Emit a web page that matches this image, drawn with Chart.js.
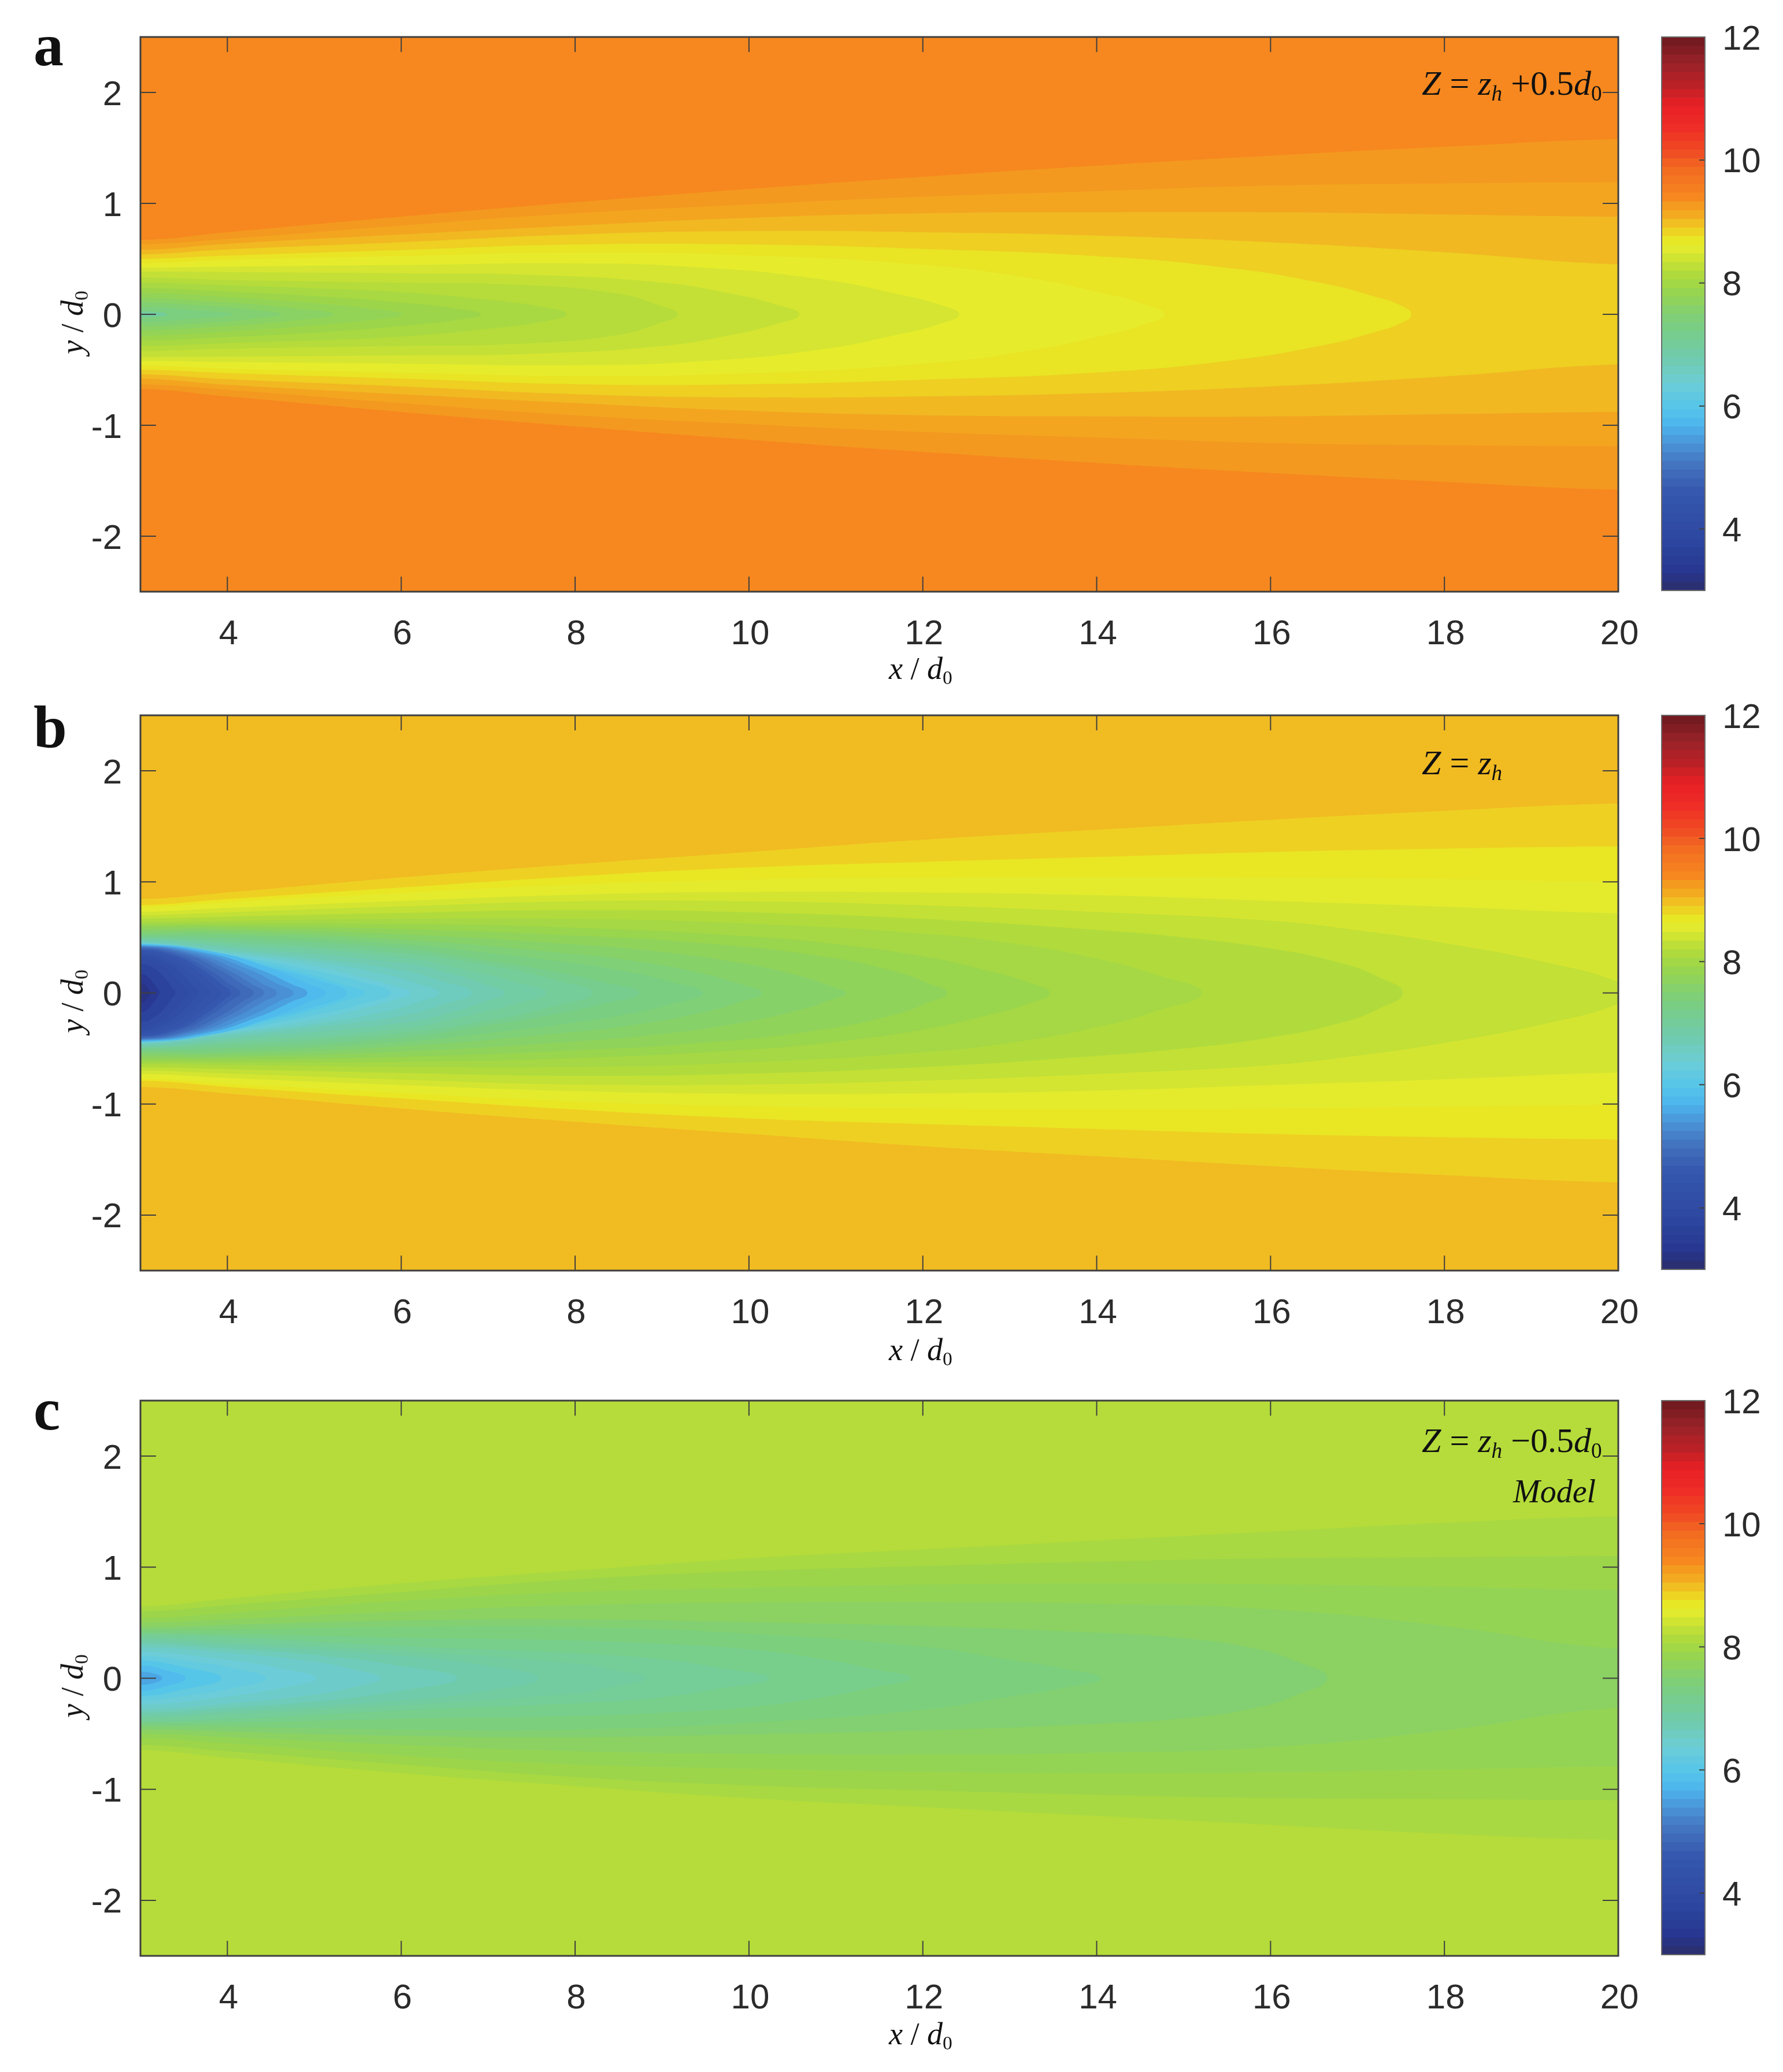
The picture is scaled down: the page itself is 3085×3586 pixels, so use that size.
<!DOCTYPE html>
<html>
<head>
<meta charset="utf-8">
<script src="https://cdn.jsdelivr.net/npm/chart.js@4"></script>
<style>
  html, body { margin: 0; padding: 0; background: #fff; }
  #page { position: relative; width: 3085px; height: 3586px; overflow: hidden; }
  canvas { position: absolute; left: 0; }
  .note { position: absolute; font-family: "Liberation Serif", serif; color: #111; white-space: pre; line-height: 1; }
  .note sub { font-size: 0.62em; line-height: 0; vertical-align: -0.28em; font-style: inherit; }
</style>
</head>
<body>
<div id="page"></div>
<script>
// axes
const xRange = [3, 20];
const yRange = [-2.5, 2.5];
const xTicks = [4, 6, 8, 10, 12, 14, 16, 18, 20];
const yTicks = [-2, -1, 0, 1, 2];
const cbarRange = [3, 12];
const cbarTicks = [4, 6, 8, 10, 12];
const cbarBands = 64;

// colormap: value, colour
const mapValues = [3, 3.3, 3.6, 4, 4.6, 5, 5.35, 5.7, 6, 6.35, 6.8, 7.4, 7.9, 8.2, 8.45, 8.6, 8.72, 8.85, 9, 9.14, 9.27, 9.4, 9.85, 10.15, 10.55, 10.9, 11.2, 11.6, 12];
const mapColors = ['#2c2e69', '#283590', '#2a4099', '#2f4ba4', '#3557ae', '#4270be', '#4a90d4', '#4db6ee', '#56c6e8', '#6ccdd8', '#70cbab', '#7ccf7b', '#9ad54b', '#b5dc3a', '#d5e531', '#e6ec2c', '#e9e624', '#eed222', '#f1bb22', '#f3a720', '#f49a1f', '#f6881f', '#f36b21', '#f04a23', '#ee2c27', '#e72025', '#bd2127', '#962228', '#6b191e'];

// panel a: field value outside all contours, value inside each contour,
// and each contour's upper half as [x/d0, y/d0] (ends at y=0 when it closes)
const backgroundA = 9.4;
const levelsA = [9.28, 9.16, 9.02, 8.87, 8.73, 8.6, 8.45, 8.32, 8.2, 8.06, 7.92, 7.78, 7.64, 7.5, 7.36, 6.97];
const contoursA = [
  [[3,.67],[4,.74],[6,.88],[8,1.01],[10,1.13],[12,1.24],[14,1.34],[16,1.43],[18,1.51],[20,1.58]],
  [[3,.63],[4,.68],[6,.80],[8,.91],[10,.99],[12,1.06],[14,1.11],[16,1.16],[18,1.18],[20,1.19]],
  [[3,.58],[4,.635],[6,.72],[8,.80],[10,.87],[12,.91],[14,.92],[16,.92],[18,.90],[20,.88]],
  [[3,.54],[4,.585],[6,.65],[8,.72],[10,.75],[12,.74],[14,.71],[16,.65],[18,.56],[20,.45]],
  [[3,.50],[4,.53],[6,.58],[8,.63],[10,.63],[12,.59],[14,.525],[15.5,.42],[16.6,.28],[17.2,.16],[17.5,.08],[17.62,0]],
  [[3,.46],[4,.49],[6,.525],[8,.555],[10,.53],[12,.445],[13.2,.33],[14.1,.185],[14.55,.09],[14.78,0]],
  [[3,.42],[4,.43],[6,.445],[8,.46],[9.4,.425],[10.8,.32],[11.7,.185],[12.2,.085],[12.42,0]],
  [[3,.385],[4,.38],[6,.37],[7.5,.355],[9,.285],[9.8,.185],[10.3,.09],[10.58,0]],
  [[3,.333],[4,.31],[6,.285],[7.5,.26],[8.5,.185],[8.95,.085],[9.18,0]],
  [[3,.286],[4,.26],[5,.235],[6,.20],[7,.13],[7.6,.07],[7.9,0]],
  [[3,.238],[4,.205],[5,.165],[6,.105],[6.6,.055],[6.92,0]],
  [[3,.194],[4,.155],[5,.10],[5.6,.055],[6.01,0]],
  [[3,.147],[4,.105],[4.7,.06],[5.22,0]],
  [[3,.107],[3.8,.075],[4.3,.04],[4.62,0]],
  [[3,.067],[3.6,.04],[4.06,0]],
  [[3,.028],[3.31,0]]
];

// panel b
const backgroundB = 9.0;
const levelsB = [8.86, 8.72, 8.58, 8.44, 8.3, 8.16, 8.02, 7.88, 7.73, 7.59, 7.45, 7.31, 7.17, 7.03, 6.89, 6.75, 6.61, 6.47, 6.33, 6.19, 6.05, 5.91, 5.77, 5.5, 5.35, 5.2, 5.05, 4.9, 4.75, 4.6, 4.45, 4.3, 4.15, 4, 3.7, 3.4, 3.2];
const contoursB = [
  [[3,.845],[4,.905],[6,1.04],[8,1.16],[10,1.27],[12,1.38],[14,1.47],[16,1.56],[18,1.64],[20,1.706]],
  [[3,.79],[4,.845],[6,.95],[8,1.05],[10,1.13],[12,1.18],[14,1.225],[16,1.27],[18,1.30],[20,1.32]],
  [[3,.77],[4,.817],[6,.90],[8,.975],[10,1.02],[12,1.04],[14,1.045],[16,1.04],[18,1.024],[20,1.004]],
  [[3,.73],[4,.766],[6,.83],[8,.885],[10,.91],[12,.905],[14,.88],[16,.83],[18,.778],[20,.718]],
  [[3,.70],[4,.726],[6,.78],[8,.825],[10,.825],[12,.79],[14,.73],[16,.65],[17,.565],[18,.45],[19.2,.27],[20,.1],[20.15,0]],
  [[3,.67],[4,.687],[6,.72],[8,.746],[10,.726],[12,.667],[14,.567],[15,.50],[16,.40],[16.8,.27],[17.25,.14],[17.52,0]],
  [[3,.64],[4,.65],[6,.667],[8,.667],[10,.625],[12,.535],[13,.45],[14,.31],[14.7,.16],[15.21,0]],
  [[3,.62],[4,.625],[6,.62],[8,.587],[10,.51],[11,.44],[12,.33],[12.7,.21],[13.2,.10],[13.46,0]],
  [[3,.60],[4,.60],[6,.575],[8,.516],[9.44,.45],[10.84,.33],[11.7,.19],[12.05,.09],[12.28,0]],
  [[3,.575],[4,.575],[6,.528],[8,.437],[9,.37],[9.9,.27],[10.6,.15],[10.95,.06],[11.12,0]],
  [[3,.55],[4,.55],[6,.48],[8,.35],[8.75,.28],[9.44,.18],[9.9,.08],[10.15,0]],
  [[3,.53],[4,.525],[6,.44],[7,.36],[8,.265],[8.6,.19],[9.1,.10],[9.47,0]],
  [[3,.515],[4,.495],[6,.40],[7,.29],[7.7,.20],[8.3,.10],[8.74,0]],
  [[3,.50],[4,.465],[6,.36],[7,.25],[7.7,.13],[8.2,0]],
  [[3,.49],[4,.44],[6,.32],[6.8,.20],[7.3,.10],[7.67,0]],
  [[3,.48],[4,.415],[6,.27],[6.6,.17],[6.95,.08],[7.19,0]],
  [[3,.465],[4,.39],[5,.31],[6,.205],[6.45,.11],[6.81,0]],
  [[3,.455],[4,.37],[5,.28],[5.8,.17],[6.2,.08],[6.44,0]],
  [[3,.45],[4,.355],[5,.24],[5.6,.13],[5.9,.065],[6.11,0]],
  [[3,.445],[4,.345],[5,.20],[5.5,.11],[5.88,0]],
  [[3,.44],[4,.34],[4.5,.25],[5,.155],[5.3,.08],[5.58,0]],
  [[3,.44],[4,.335],[4.5,.23],[5,.125],[5.37,0]],
  [[3,.44],[3.85,.37],[4.49,.224],[4.92,.084],[5.13,0]],
  [[3,.43],[3.77,.36],[4.34,.22],[4.73,.082],[4.92,0]],
  [[3,.425],[3.7,.357],[4.23,.217],[4.58,.08],[4.76,0]],
  [[3,.42],[3.63,.353],[4.1,.214],[4.41,.08],[4.57,0]],
  [[3,.415],[3.57,.349],[3.99,.212],[4.28,.079],[4.42,0]],
  [[3,.41],[3.52,.344],[3.91,.209],[4.17,.078],[4.3,0]],
  [[3,.40],[3.46,.336],[3.8,.204],[4.03,.076],[4.15,0]],
  [[3,.39],[3.42,.328],[3.73,.199],[3.94,.074],[4.04,0]],
  [[3,.38],[3.37,.319],[3.65,.194],[3.84,.072],[3.93,0]],
  [[3,.36],[3.32,.30],[3.56,.184],[3.72,.068],[3.8,0]],
  [[3,.34],[3.27,.286],[3.47,.173],[3.6,.065],[3.67,0]],
  [[3,.31],[3.22,.26],[3.385,.158],[3.495,.059],[3.55,0]],
  [[3,.26],[3.16,.218],[3.28,.133],[3.36,.05],[3.4,0]],
  [[3,.17],[3.09,.143],[3.15,.087],[3.2,.032],[3.22,0]],
  [[3,.09],[3.05,.076],[3.08,.046],[3.11,.017],[3.12,0]]
];

// panel c
const backgroundC = 8.2;
const levelsC = [8.05, 7.92, 7.8, 7.65, 7.5, 7.37, 7.2, 7.05, 6.95, 6.8, 6.65, 6.5, 6.35, 6.2, 6, 5.8, 5.55];
const contoursC = [
  [[3,.645],[4,.716],[6,.854],[8,.97],[10,1.08],[12,1.16],[14,1.24],[16,1.32],[18,1.40],[20,1.457]],
  [[3,.60],[4,.657],[6,.776],[8,.89],[10,.965],[12,1.01],[14,1.05],[16,1.08],[18,1.09],[20,1.10]],
  [[3,.54],[4,.587],[6,.697],[8,.776],[10,.815],[12,.843],[14,.854],[16,.846],[18,.823],[20,.795]],
  [[3,.50],[4,.53],[6,.60],[8,.657],[10,.68],[12,.685],[14,.67],[16,.62],[18,.47],[20,.264]],
  [[3,.46],[4,.48],[6,.52],[8,.53],[10,.505],[12,.47],[14,.41],[15,.36],[15.8,.27],[16.3,.15],[16.65,0]],
  [[3,.435],[4,.44],[6,.46],[8,.46],[10,.40],[12,.283],[13,.165],[13.6,.09],[14.05,0]],
  [[3,.41],[4,.40],[6,.365],[8,.34],[9,.31],[10,.26],[10.9,.165],[11.4,.087],[11.86,0]],
  [[3,.39],[4,.37],[6,.29],[8,.225],[9,.17],[9.6,.10],[10.23,0]],
  [[3,.365],[4,.33],[6,.245],[8,.135],[8.4,.08],[8.81,0]],
  [[3,.34],[4,.30],[6,.20],[7,.11],[7.58,0]],
  [[3,.31],[4,.265],[5,.21],[6,.11],[6.64,0]],
  [[3,.28],[4,.23],[5,.15],[5.4,.09],[5.76,0]],
  [[3,.24],[4,.165],[4.6,.09],[5.02,0]],
  [[3,.2],[3.6,.15],[4,.1],[4.44,0]],
  [[3,.16],[3.5,.1],[3.93,0]],
  [[3,.115],[3.3,.07],[3.52,0]],
  [[3,.06],[3.25,0]]
];

const tickFont = { family: '"Liberation Sans", Arial, sans-serif', size: 60 };
const tickColor = '#2b2b2b';
const frameColor = '#3f3f3f';

function hexToRgb(h) {
  return [1, 3, 5].map(i => parseInt(h.substr(i, 2), 16));
}

function colorAt(z) {
  let i = 0;
  while (i < mapValues.length - 2 && z > mapValues[i + 1]) i++;
  const t = Math.min(1, Math.max(0, (z - mapValues[i]) / (mapValues[i + 1] - mapValues[i])));
  const a = hexToRgb(mapColors[i]), b = hexToRgb(mapColors[i + 1]);
  return 'rgb(' + a.map((v, k) => Math.round(v + (b[k] - v) * t)).join(',') + ')';
}

// upper half -> closed outline, mirrored about y=0. ends that touch the axes
// are carried past the plot so the spline stays flat inside the clip
function outline(half) {
  const pts = half.map(p => ({ x: p[0], y: p[1] }));
  const last = half[half.length - 1];
  const upper = [{ x: xRange[0] - 1.5, y: half[0][1] }].concat(pts);
  if (last[1] > 0) upper.push({ x: xRange[1] + 1.5, y: last[1] });
  const lower = upper.slice().reverse().filter(p => p.y !== 0).map(p => ({ x: p.x, y: -p.y }));
  return upper.concat(lower);
}

const panelFrame = {
  id: 'panelFrame',
  beforeDatasetsDraw(chart, args, opts) {
    const { ctx, chartArea: a } = chart;
    ctx.fillStyle = colorAt(opts.background);
    ctx.fillRect(a.left, a.top, a.right - a.left, a.bottom - a.top);
  },
  afterDatasetsDraw(chart) {
    const { ctx, chartArea: a, scales } = chart;
    ctx.save();
    ctx.strokeStyle = frameColor;
    ctx.lineWidth = 2;
    ctx.beginPath();
    xTicks.forEach(v => {
      const px = scales.x.getPixelForValue(v);
      ctx.moveTo(px, a.top); ctx.lineTo(px, a.top + 26);
      ctx.moveTo(px, a.bottom); ctx.lineTo(px, a.bottom - 26);
    });
    yTicks.forEach(v => {
      const py = scales.y.getPixelForValue(v);
      ctx.moveTo(a.left, py); ctx.lineTo(a.left + 27, py);
      ctx.moveTo(a.right, py); ctx.lineTo(a.right - 27, py);
    });
    ctx.stroke();
    ctx.lineWidth = 3;
    ctx.strokeRect(a.left, a.top, a.right - a.left, a.bottom - a.top);
    ctx.restore();
  }
};

const cbarFrame = {
  id: 'cbarFrame',
  afterDatasetsDraw(chart) {
    const { ctx, chartArea: a, scales } = chart;
    ctx.save();
    ctx.strokeStyle = frameColor;
    ctx.lineWidth = 2;
    ctx.beginPath();
    cbarTicks.forEach(v => {
      const py = scales.y.getPixelForValue(v);
      ctx.moveTo(a.right, py); ctx.lineTo(a.right - 10, py);
    });
    ctx.stroke();
    ctx.strokeStyle = '#6a6a6a';
    ctx.strokeRect(a.left, a.top, a.right - a.left, a.bottom - a.top);
    ctx.restore();
  }
};

function addCanvas(page, left, top, w, h) {
  const c = document.createElement('canvas');
  c.width = w; c.height = h;
  c.style.left = left + 'px'; c.style.top = top + 'px';
  page.appendChild(c);
  return c;
}

function drawPanel(page, plotTop, plotBottom, background, levels, contours) {
  const headroom = 62, xAxisHeight = 110;
  const canvas = addCanvas(page, 0, plotTop - headroom, 3085, plotBottom - plotTop + headroom + xAxisHeight);
  // first dataset is painted last, so innermost contour goes first
  const datasets = contours.map((half, i) => ({
    data: outline(half),
    showLine: true,
    fill: 'shape',
    backgroundColor: colorAt(levels[i]),
    borderWidth: 0,
    pointRadius: 0,
    tension: 0.5
  })).reverse();
  new Chart(canvas, {
    type: 'scatter',
    data: { datasets },
    plugins: [panelFrame],
    options: {
      responsive: false,
      animation: false,
      devicePixelRatio: 1,
      events: [],
      layout: { padding: { top: headroom, right: 285, left: 0, bottom: 0 } },
      plugins: { legend: { display: false }, tooltip: { enabled: false }, panelFrame: { background } },
      scales: {
        x: {
          type: 'linear', min: xRange[0], max: xRange[1],
          afterBuildTicks: s => { s.ticks = xTicks.map(value => ({ value })); },
          afterFit: s => { s.height = xAxisHeight; },
          grid: { display: false }, border: { display: false },
          ticks: { font: tickFont, color: tickColor, padding: 30, maxRotation: 0, autoSkip: false, labelOffset: 2 }
        },
        y: {
          type: 'linear', min: yRange[0], max: yRange[1],
          afterBuildTicks: s => { s.ticks = yTicks.map(value => ({ value })); },
          afterFit: s => { s.width = 243; },
          grid: { display: false }, border: { display: false },
          ticks: { font: tickFont, color: tickColor, padding: 24, autoSkip: false, labelOffset: 5 }
        }
      }
    }
  });
}

function drawColorbar(page, plotTop, plotBottom) {
  const headroom = 62;
  const canvas = addCanvas(page, 2865, plotTop - headroom, 220, plotBottom - plotTop + headroom + 62);
  const step = (cbarRange[1] - cbarRange[0]) / cbarBands;
  const datasets = [];
  // each bar runs up to the top so neighbouring bands leave no seam
  for (let i = cbarBands - 1; i >= 0; i--) {
    const lo = cbarRange[0] + i * step;
    datasets.push({
      data: [[lo, cbarRange[1]]],
      backgroundColor: colorAt(lo + step / 2),
      borderWidth: 0,
      grouped: false,
      barPercentage: 1,
      categoryPercentage: 1
    });
  }
  new Chart(canvas, {
    type: 'bar',
    data: { labels: ['speed'], datasets },
    plugins: [cbarFrame],
    options: {
      responsive: false,
      animation: false,
      devicePixelRatio: 1,
      events: [],
      layout: { padding: { top: headroom, left: 10, bottom: 62, right: 0 } },
      plugins: { legend: { display: false }, tooltip: { enabled: false } },
      scales: {
        x: { display: false },
        y: {
          position: 'right', min: cbarRange[0], max: cbarRange[1],
          afterBuildTicks: s => { s.ticks = cbarTicks.map(value => ({ value })); },
          afterFit: s => { s.width = 135; },
          grid: { display: false }, border: { display: false },
          ticks: { font: tickFont, color: tickColor, padding: 22, autoSkip: false, labelOffset: 5 }
        }
      }
    }
  });
}

// baseline-anchored overlay text
function note(page, html, x, baseline, size, weight) {
  const el = document.createElement('div');
  el.className = 'note';
  el.innerHTML = html;
  el.style.fontSize = size + 'px';
  el.style.left = x + 'px';
  el.style.top = (baseline - size * 0.8375) + 'px';
  if (weight) el.style.fontWeight = weight;
  page.appendChild(el);
  return el;
}

function yLabel(page, centerY) {
  const el = note(page, '<i>y</i> / <i>d</i><sub>0</sub>', 125, centerY, 54);
  el.style.top = centerY + 'px';
  el.style.left = '125px';
  el.style.lineHeight = '0';
  el.style.transformOrigin = '0 0';
  el.style.transform = 'rotate(-90deg) translateX(-50%)';
}

const page = document.getElementById('page');

drawPanel(page, 64, 1024, backgroundA, levelsA, contoursA);
drawPanel(page, 1238, 2199, backgroundB, levelsB, contoursB);
drawPanel(page, 2424, 3385, backgroundC, levelsC, contoursC);
drawColorbar(page, 64, 1022);
drawColorbar(page, 1238, 2197);
drawColorbar(page, 2424, 3383);

note(page, 'a', 58, 113, 104, 'bold');
note(page, 'b', 58, 1293, 104, 'bold');
note(page, 'c', 58, 2474, 104, 'bold');

const xLabel = '<i>x</i> / <i>d</i><sub>0</sub>';
note(page, xLabel, 1538, 1175, 54);
note(page, xLabel, 1538, 2354, 54);
note(page, xLabel, 1538, 3538, 54);
yLabel(page, 558);
yLabel(page, 1733);
yLabel(page, 2918);

const formula = [
  '<i>Z</i> = <i>z</i><sub><i>h</i></sub> +0.5<i>d</i><sub>0</sub>',
  '<i>Z</i> = <i>z</i><sub><i>h</i></sub>',
  '<i>Z</i> = <i>z</i><sub><i>h</i></sub> \u22120.5<i>d</i><sub>0</sub>'
];
note(page, formula[0], 2460, 164, 60);
note(page, formula[1], 2460, 1340, 60);
note(page, formula[2], 2460, 2513, 60);
note(page, '<i>Model</i>', 2618, 2600, 56);
</script>
</body>
</html>
